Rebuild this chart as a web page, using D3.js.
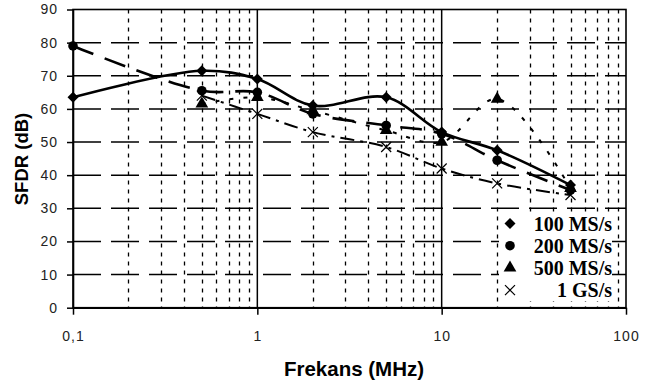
<!DOCTYPE html>
<html>
<head>
<meta charset="utf-8">
<script src="https://cdn.jsdelivr.net/npm/d3@7"></script>
<style>
  body { margin: 0; background: #fff; }
  svg { display: block; }
  .tick text { font-family: "Liberation Sans", Arial, sans-serif; font-size: 14px; fill: #222; letter-spacing: 1px; }
</style>
</head>
<body>
<svg id="chart" width="651" height="387"></svg>
<script>
// data
const freqs = [0.1, 0.5, 1, 2, 5, 10, 20, 50];
const sfdr100M = [63.5, 71.5, 69, 61, 63.5, 53, 47.5, 37];
const sfdr200M = [79, 65.5, 65, 58.5, 55, 52.5, 44.5, 35.5];
const sfdr500M = [null, 61.5, 63.5, 59.5, 53.5, 50, 63, 36];
const sfdr1G = [null, 64, 58.5, 53, 48.5, 42, 37.5, 34];
const seriesNames = ["100 MS/s", "200 MS/s", "500 MS/s", "1 GS/s"];
const yTicks = [0, 10, 20, 30, 40, 50, 60, 70, 80, 90];
const xTicks = [0.1, 1, 10, 100];
const xTickLabels = ["0,1", "1", "10", "100"];

const plotL = 73, plotR = 626, plotT = 9.5, plotB = 307.7;

const svg = d3.select("#chart");

const x = d3.scaleLog().domain([0.1, 100]).range([plotL, plotR]);
const y = d3.scaleLinear().domain([0, 90]).range([plotB, plotT]);

// minor vertical grid (2..9 in each decade)
const minor = [];
[0.1, 1, 10].forEach(d => { for (let k = 2; k <= 9; k++) minor.push(d * k); });

const grid = svg.append("g");
grid.selectAll("line.vmin")
  .data(minor)
  .join("line")
  .attr("x1", d => Math.round(x(d)) + 0.5).attr("x2", d => Math.round(x(d)) + 0.5)
  .attr("y1", plotT).attr("y2", plotB)
  .attr("stroke", "#000").attr("stroke-width", 1.3)
  .attr("stroke-dasharray", "4,5");

grid.selectAll("line.hgrid")
  .data(yTicks.slice(1, -1))
  .join("line")
  .attr("x1", plotL).attr("x2", plotR)
  .attr("y1", d => y(d)).attr("y2", d => y(d))
  .attr("stroke", "#000").attr("stroke-width", 1.5)
  .attr("stroke-dasharray", "28,10");

grid.selectAll("line.vmaj")
  .data([1, 10])
  .join("line")
  .attr("x1", d => x(d)).attr("x2", d => x(d))
  .attr("y1", plotT).attr("y2", plotB)
  .attr("stroke", "#000").attr("stroke-width", 1.5);

// plot frame
svg.append("rect")
  .attr("x", plotL).attr("y", plotT)
  .attr("width", plotR - plotL).attr("height", plotB - plotT)
  .attr("fill", "none").attr("stroke", "#000").attr("stroke-width", 1.6);

// axes
svg.append("g")
  .attr("transform", `translate(${plotL},0)`)
  .call(d3.axisLeft(y).tickValues(yTicks).tickSize(6).tickSizeOuter(0).tickPadding(9))
  .call(g => g.select(".domain").attr("stroke-width", 1.6))
  .call(g => g.selectAll(".tick line").attr("stroke-width", 1.5));

svg.append("g")
  .attr("transform", `translate(0,${plotB})`)
  .call(d3.axisBottom(x).tickValues(xTicks).tickFormat((d, i) => xTickLabels[i])
    .tickSize(7).tickSizeOuter(0).tickPadding(16))
  .call(g => g.select(".domain").attr("stroke-width", 1.6))
  .call(g => g.selectAll(".tick line").attr("stroke-width", 1.5));

// axis titles
svg.append("text")
  .attr("x", 354).attr("y", 376)
  .attr("text-anchor", "middle")
  .style("font-family", "'Liberation Sans', Arial, sans-serif")
  .style("font-weight", "bold").style("font-size", "20.5px")
  .text("Frekans (MHz)");

svg.append("text")
  .attr("transform", "translate(28,159) rotate(-90)")
  .attr("text-anchor", "middle")
  .style("font-family", "'Liberation Sans', Arial, sans-serif")
  .style("font-weight", "bold").style("font-size", "18.5px")
  .text("SFDR (dB)");

// series
const diamond = s => `M0,${-s}L${s},0L0,${s}L${-s},0Z`;
const series = [
  { name: seriesNames[0], values: sfdr100M, dash: null, width: 2.6, marker: "diamond" },
  { name: seriesNames[1], values: sfdr200M, dash: "22,12", width: 2.6, marker: "circle" },
  { name: seriesNames[2], values: sfdr500M, dash: "4,10", width: 2, marker: "triangle" },
  { name: seriesNames[3], values: sfdr1G, dash: "14,6,3,6", width: 2, marker: "cross" }
];

function drawMarker(sel, type) {
  if (type === "diamond") sel.append("path").attr("d", diamond(5.5)).attr("fill", "#000");
  else if (type === "circle") sel.append("circle").attr("r", 4.8).attr("fill", "#000");
  else if (type === "triangle") sel.append("path").attr("d", d3.symbol(d3.symbolTriangle, 70)()).attr("fill", "#000");
  else sel.append("path").attr("d", "M-5,-5L5,5M-5,5L5,-5").attr("stroke", "#000").attr("stroke-width", 1.2).attr("fill", "none");
}

const line = d3.line()
  .x(d => x(d[0]))
  .y(d => y(d[1]))
  .curve(d3.curveCatmullRom.alpha(0.5));

series.forEach(s => {
  const pts = freqs.map((f, i) => [f, s.values[i]]).filter(d => d[1] != null);
  svg.append("path")
    .datum(pts)
    .attr("d", line)
    .attr("fill", "none")
    .attr("stroke", "#000")
    .attr("stroke-width", s.width)
    .attr("stroke-dasharray", s.dash);
  svg.append("g").selectAll("g")
    .data(pts)
    .join("g")
    .attr("transform", d => `translate(${x(d[0])},${y(d[1])})`)
    .each(function () { drawMarker(d3.select(this), s.marker); });
});

// legend
const lg = svg.append("g");
lg.append("rect")
  .attr("x", 499).attr("y", 212).attr("width", 113).attr("height", 89)
  .attr("fill", "#fff");
series.forEach((s, i) => {
  const yy = 223.5 + i * 22.2;
  const m = lg.append("g").attr("transform", `translate(510,${yy})`);
  drawMarker(m, s.marker);
  lg.append("text")
    .attr("x", 612).attr("y", yy + 7)
    .attr("text-anchor", "end")
    .style("font-family", "'Liberation Serif', 'Times New Roman', serif")
    .style("font-weight", "bold").style("font-size", "20px")
    .text(s.name);
});
</script>
</body>
</html>
